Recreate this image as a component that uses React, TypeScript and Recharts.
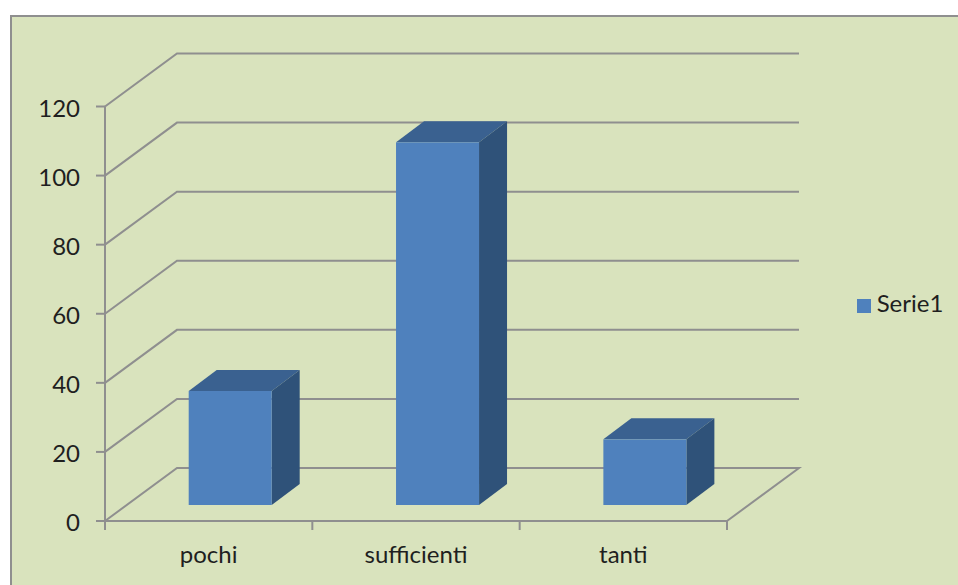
import { Bar, BarChart, CartesianGrid, Legend, XAxis, YAxis } from 'recharts';

const categories = ['pochi', 'sufficienti', 'tanti'];
const serie1 = [33, 105, 19];
const yTicks = [0, 20, 40, 60, 80, 100, 120];

const data = categories.map((name, i) => ({ name, Serie1: serie1[i] }));

const WIDTH = 958;
const HEIGHT = 585;
const PLOT = { left: 105, right: 727, top: 106.5, bottom: 521 };
const BAND = (PLOT.right - PLOT.left) / categories.length;

// the fake 3D box: back wall offset and where the bars sit in the depth
const WALL_DX = 72;
const WALL_DY = 53;
const BAR_DX = 21.5;
const BAR_DY = 16;
const BOX_DX = 28;
const BOX_DY = 21;

const GRAY = '#8f8f8f';
const TEXT = '#1f1f1f';
const FONT = 'Lato, sans-serif';

const WallLine = (props: any) => {
  const { x1, x2, y1 } = props;
  const backY = y1 - WALL_DY;
  const isFloor = Math.abs(y1 - PLOT.bottom) < 1;
  const points = [
    `${x1},${y1}`,
    `${x1 + WALL_DX},${backY}`,
    `${x2 + WALL_DX},${backY}`,
  ];
  if (isFloor) points.push(`${x2},${y1}`);
  return <polyline key={props.key} points={points.join(' ')} fill="none" stroke={GRAY} strokeWidth={2} />;
};

const Box = (props: any) => {
  const { x, y, width, height } = props;
  const left = x + BAR_DX;
  const right = left + width;
  const top = y - BAR_DY;
  const bottom = top + height;
  return (
    <g>
      <polygon
        points={`${left},${top} ${left + BOX_DX},${top - BOX_DY} ${right + BOX_DX},${top - BOX_DY} ${right},${top}`}
        fill="#3a6190"
      />
      <polygon
        points={`${right},${top} ${right + BOX_DX},${top - BOX_DY} ${right + BOX_DX},${bottom - BOX_DY} ${right},${bottom}`}
        fill="#2f5279"
      />
      <rect x={left} y={top} width={width} height={height} fill="#4f81bd" />
    </g>
  );
};

// category ticks sit on the band edges, labels in the middle
const CategoryTick = (props: any) => {
  const { x, y, index, payload } = props;
  const edge = x + BAND / 2;
  return (
    <g>
      {index === 0 && <line x1={x - BAND / 2} x2={x - BAND / 2} y1={PLOT.bottom} y2={PLOT.bottom + 9} stroke={GRAY} strokeWidth={2} />}
      <line x1={edge} x2={edge} y1={PLOT.bottom} y2={PLOT.bottom + 9} stroke={GRAY} strokeWidth={2} />
      <text x={x} y={y + 34} textAnchor="middle" fontSize={24} fontFamily={FONT} fill={TEXT}>
        {payload.value}
      </text>
    </g>
  );
};

const ValueTick = (props: any) => {
  const { x, y, payload } = props;
  return (
    <text x={x} y={y + 10} textAnchor="end" fontSize={24} fontFamily={FONT} fill={TEXT}>
      {payload.value}
    </text>
  );
};

export default function App() {
  return (
    <div style={{ position: 'fixed', left: 0, top: 0, width: WIDTH, height: HEIGHT, overflow: 'hidden', background: '#fff' }}>
      <div
        style={{
          position: 'absolute',
          left: 10,
          top: 15,
          width: 1000,
          height: 700,
          background: '#d9e3bd',
          border: `2px solid ${GRAY}`,
        }}
      />
      <div style={{ position: 'absolute', left: 0, top: 0 }}>
        <BarChart
          width={WIDTH}
          height={HEIGHT}
          data={data}
          barCategoryGap="30%"
          margin={{ left: 0, top: PLOT.top, right: WIDTH - PLOT.right, bottom: 0 }}
          style={{ fontFamily: FONT }}
        >
          <CartesianGrid vertical={false} horizontal={WallLine as any} />
          <XAxis
            dataKey="name"
            height={HEIGHT - PLOT.bottom}
            axisLine={{ stroke: GRAY, strokeWidth: 2 }}
            tickLine={false}
            tick={CategoryTick as any}
            interval={0}
          />
          <YAxis
            width={PLOT.left}
            domain={[0, 120]}
            ticks={yTicks}
            interval={0}
            axisLine={{ stroke: GRAY, strokeWidth: 2 }}
            tickLine={{ stroke: GRAY, strokeWidth: 2 }}
            tickSize={9}
            tickMargin={16}
            tick={ValueTick as any}
          />
          <Bar dataKey="Serie1" fill="#4f81bd" shape={Box as any} isAnimationActive={false} />
          <Legend
            layout="horizontal"
            align="center"
            verticalAlign="middle"
            iconType="square"
            iconSize={14}
            wrapperStyle={{ left: 855, top: 286, width: 100, textAlign: 'left' }}
            formatter={(value: string) => (
              <span style={{ color: TEXT, fontSize: 24, fontFamily: FONT, marginLeft: 2, position: 'relative', top: 2 }}>{value}</span>
            )}
          />
        </BarChart>
      </div>
    </div>
  );
}
